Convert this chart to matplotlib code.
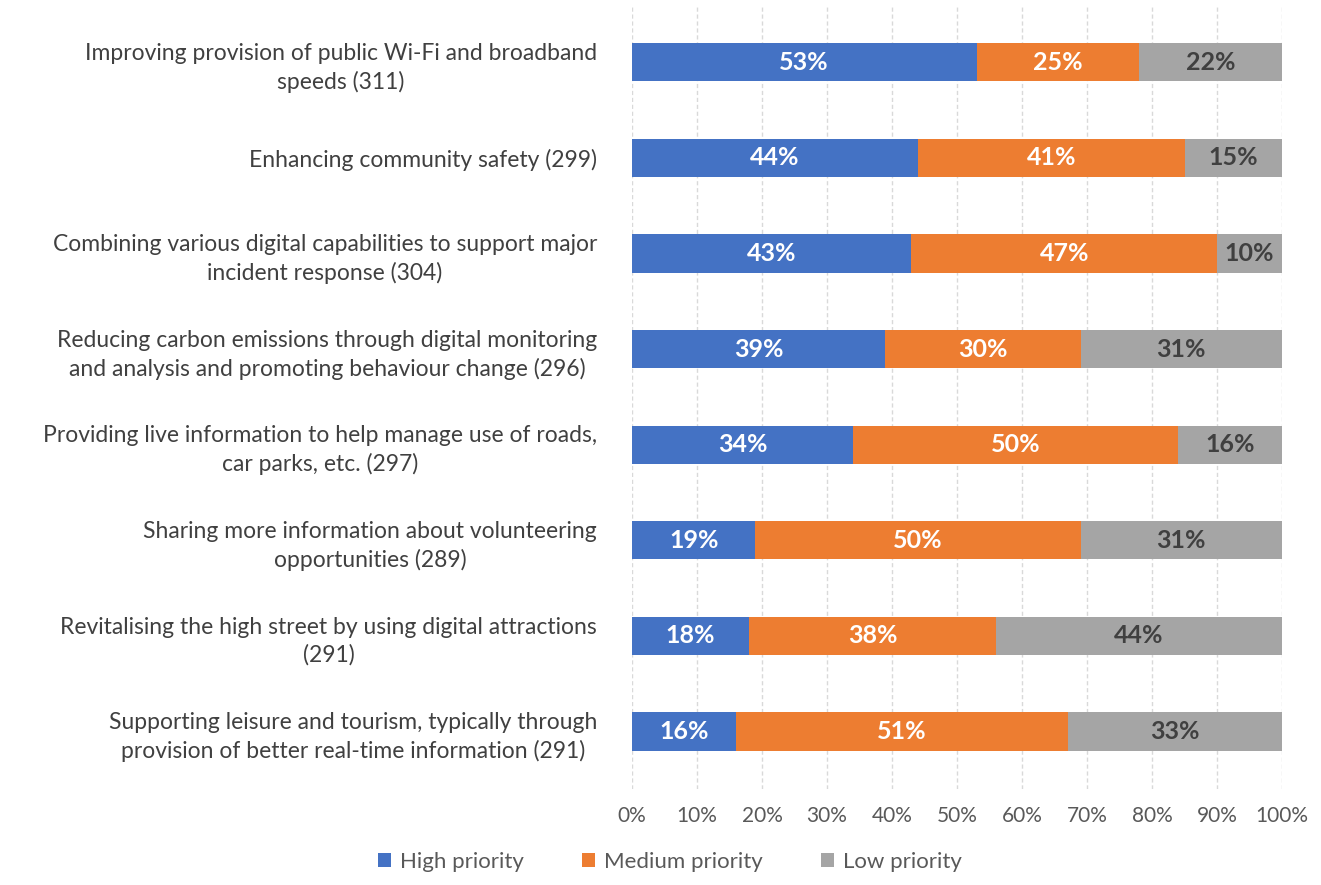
import matplotlib.pyplot as plt

categories = [
    "Improving provision of public Wi-Fi and broadband\nspeeds (311)",
    "Enhancing community safety (299)",
    "Combining various digital capabilities to support major\nincident response (304)",
    "Reducing carbon emissions through digital monitoring\nand analysis and promoting behaviour change (296)",
    "Providing live information to help manage use of roads,\ncar parks, etc. (297)",
    "Sharing more information about volunteering\nopportunities (289)",
    "Revitalising the high street by using digital attractions\n(291)",
    "Supporting leisure and tourism, typically through\nprovision of better real-time information (291)",
]
high = [53, 44, 43, 39, 34, 19, 18, 16]
medium = [25, 41, 47, 30, 50, 50, 38, 51]
low = [22, 15, 10, 31, 16, 31, 44, 33]

series = [("High priority", high, "#4472C4", "white"),
          ("Medium priority", medium, "#ED7D31", "white"),
          ("Low priority", low, "#A5A5A5", "#404040")]

plt.rcParams['font.family'] = ['Lato', 'DejaVu Sans']

fig = plt.figure(figsize=(13.21, 8.85), dpi=100)
ax = fig.add_axes([0.4784, 0.1085, 0.4921, 0.886])

y = list(range(len(categories)))
left = [0] * len(categories)
for name, vals, color, tc in series:
    bars = ax.barh(y, vals, left=left, height=0.4, color=color, label=name, zorder=3)
    for rect, v in zip(bars, vals):
        ax.text(rect.get_x() + rect.get_width() / 2, rect.get_y() + rect.get_height() / 2,
                f"{v}%", ha='center', va='center', color=tc, fontsize=18,
                fontweight='bold', zorder=4)
    left = [a + b for a, b in zip(left, vals)]

ax.set_xlim(0, 100)
ax.set_ylim(len(categories) - 0.4, -0.6)
ax.set_xticks(range(0, 101, 10))
ax.set_xticklabels([f"{t}%" for t in range(0, 101, 10)])
ax.set_yticks(y)
ax.set_yticklabels(categories, fontsize=16.5, color='#404040', linespacing=1.38,
                   multialignment='center')
ax.tick_params(axis='x', colors='#595959', labelsize=15, length=0, pad=12)
ax.tick_params(axis='y', length=0, pad=25)
ax.grid(axis='x', color='#D9D9D9', linestyle=(0, (3, 2)), linewidth=1, zorder=0)
for s in ax.spines.values():
    s.set_visible(False)

leg = fig.legend(loc='lower center', bbox_to_anchor=(0.507, -0.008), ncol=3, frameon=False,
                 fontsize=16, handlelength=0.6, handleheight=0.6, columnspacing=2.6,
                 handletextpad=0.4)
for t in leg.get_texts():
    t.set_color('#595959')

plt.savefig("out.png", dpi=100)
